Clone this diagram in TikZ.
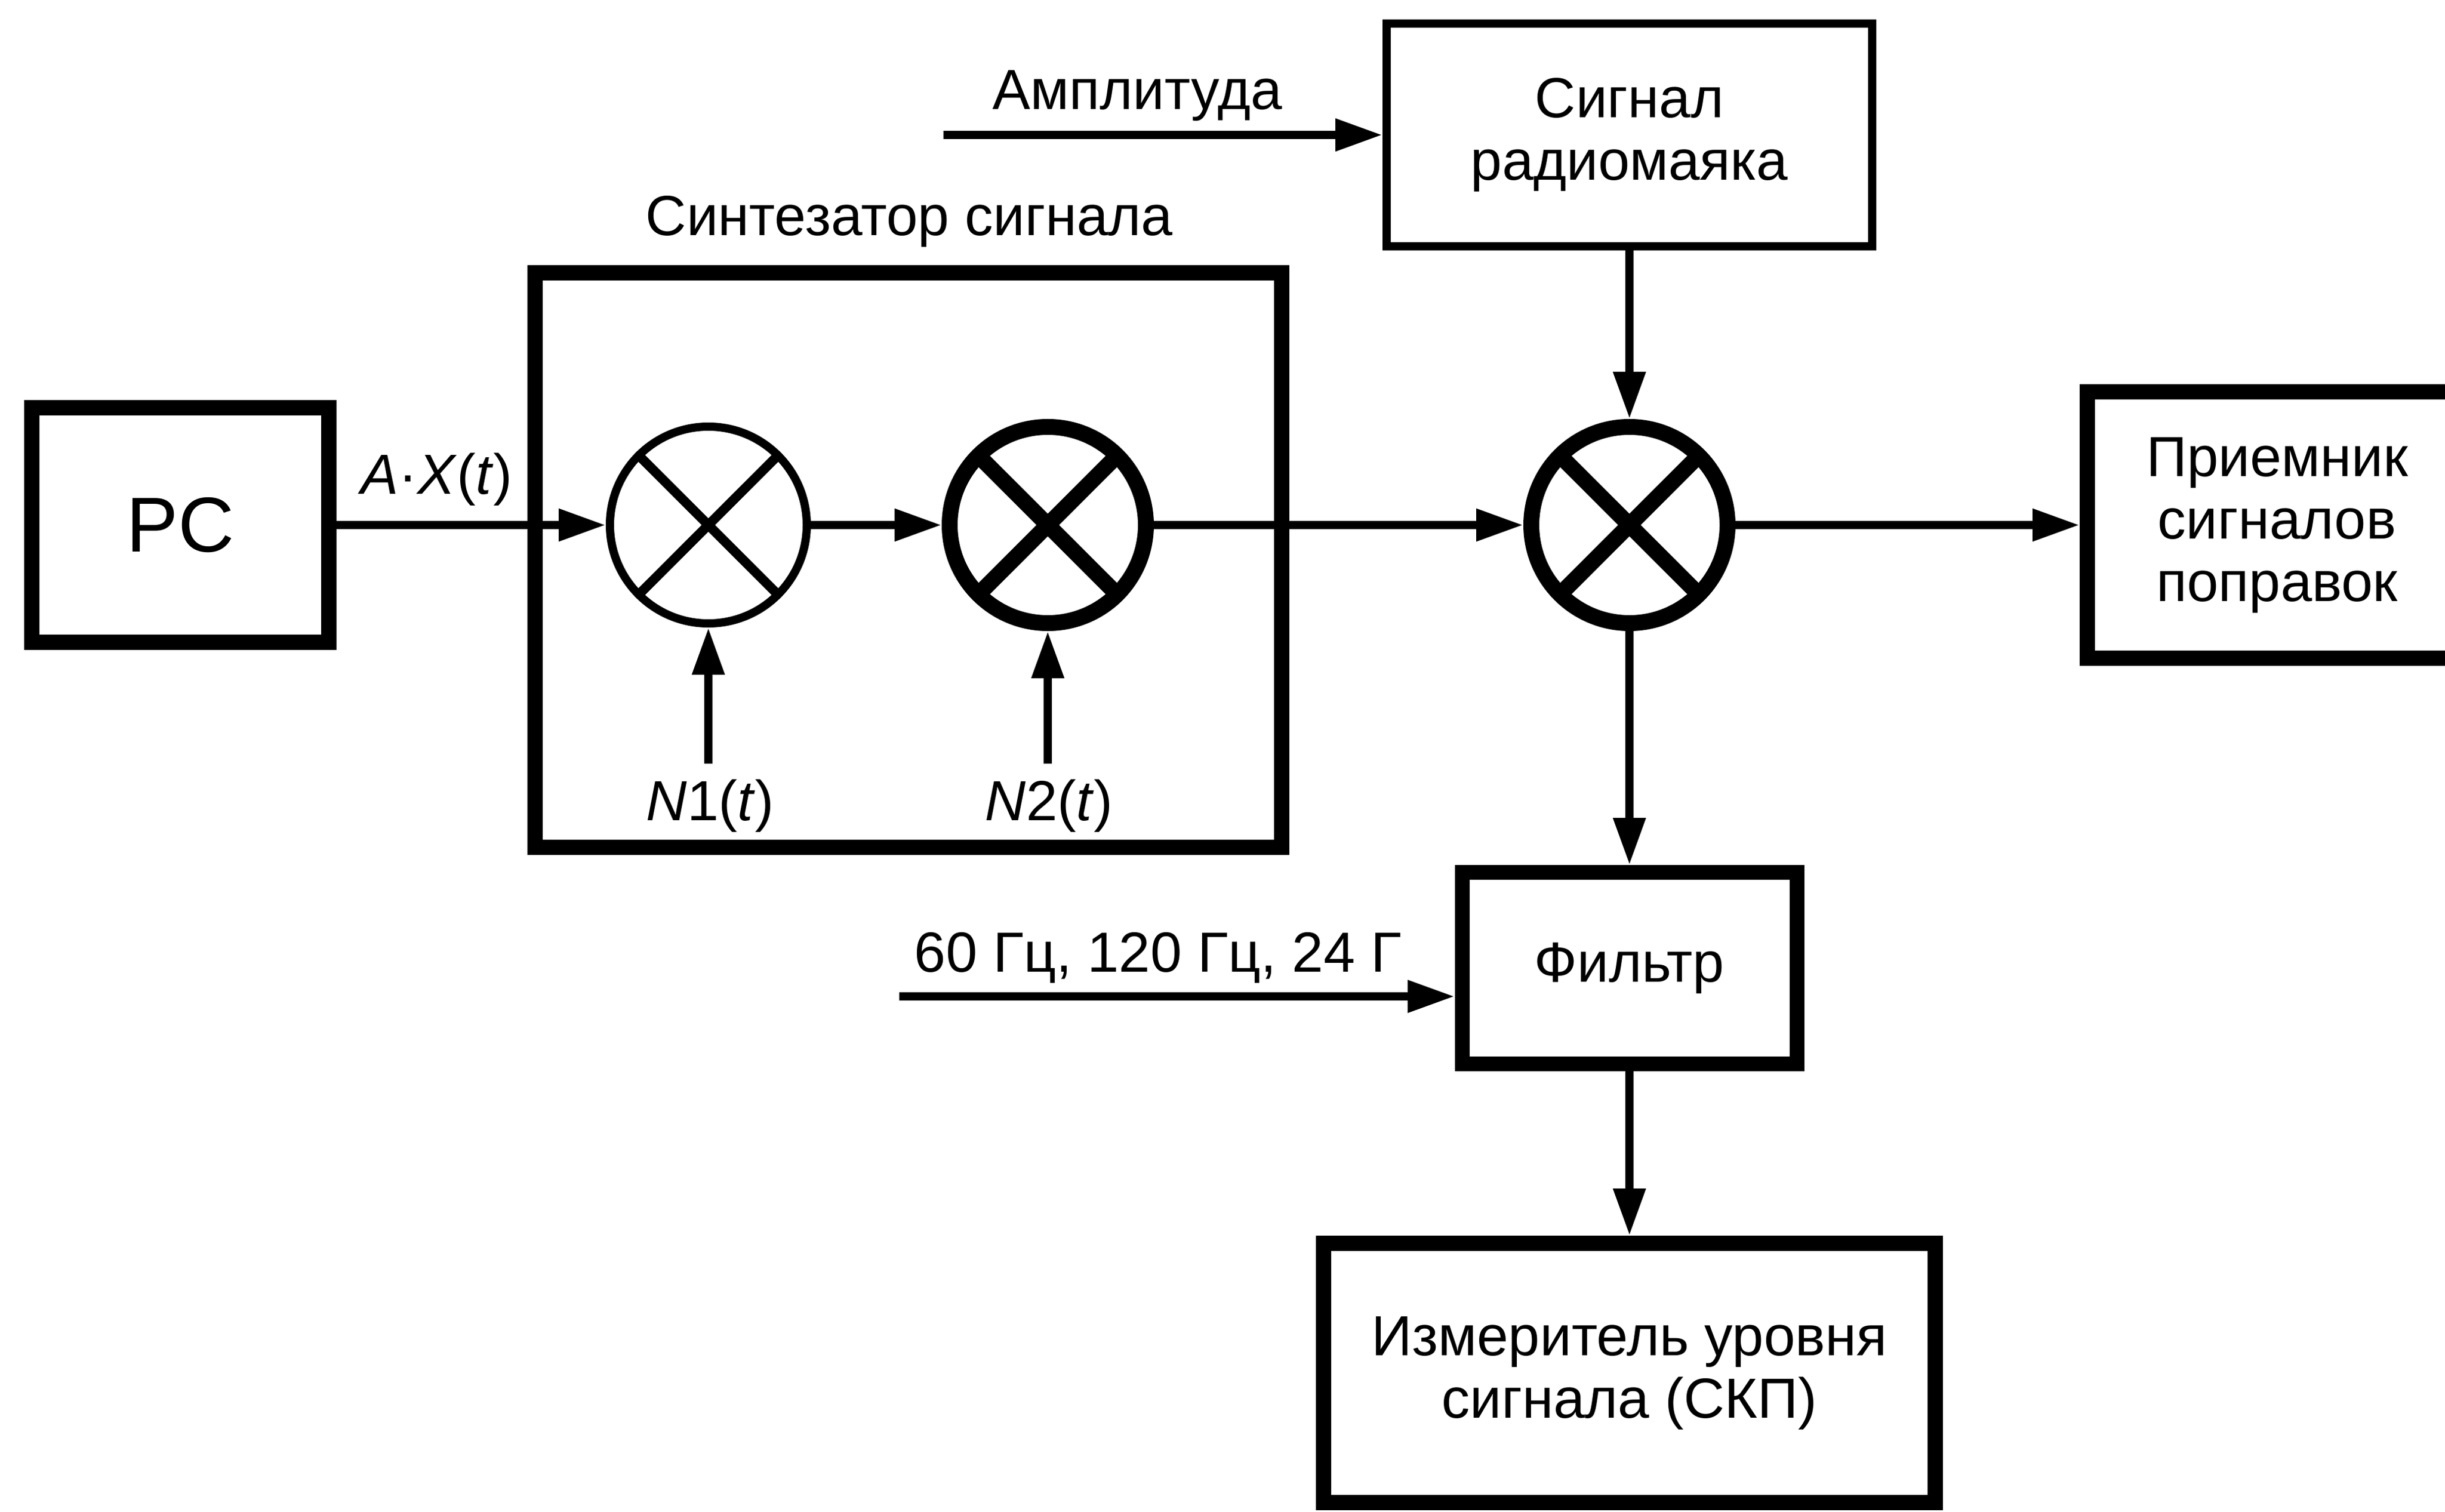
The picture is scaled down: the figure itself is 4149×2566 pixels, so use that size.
\documentclass[tikz,border=0pt]{standalone}
\usepackage{fontspec}
\setmainfont{Liberation Sans}
\usetikzlibrary{arrows.meta}
\begin{document}
\begin{tikzpicture}[x=0.25pt,y=-0.25pt,
  txt/.style={font=\fontsize{24}{26.5}\selectfont, inner sep=0pt},
  blk/.style={draw, rectangle, inner sep=0pt, align=center, font=\fontsize{24}{26.5}\selectfont},
  mul/.style={draw, circle, inner sep=0pt},
  conn/.style={line width=3.6pt, -{Triangle[length=20pt,width=13pt]}},
  ]
\useasboundingbox (0,0) rectangle (4149,2566);
\clip (0,0) rectangle (4149,2566);

% blocks
\node[blk, line width=6.5pt, minimum width=126pt, minimum height=99.5pt, font=\fontsize{33}{36}\selectfont] (pc) at (306,891) {PC};
\node[blk, line width=6.5pt, minimum width=316.75pt, minimum height=243.75pt] (syn) at (1541.5,950.5) {};
\node[blk, line width=3.5pt, minimum width=206pt, minimum height=94.5pt] (radio) at (2765,229) {Сигнал\\радиомаяка};
\node[blk, line width=6.5pt, minimum width=161pt, minimum height=113pt] (rx) at (3864,891) {Приемник\\сигналов\\поправок};
\node[blk, line width=6.25pt, minimum width=142pt, minimum height=81.25pt] (filt) at (2765,1643) {Фильтр};
\node[blk, line width=6.5pt, minimum width=259.5pt, minimum height=110pt] (meter) at (2765,2330) {Измеритель уровня\\сигнала (СКП)};

% multipliers
\node[mul, line width=3.5pt, minimum size=83.5pt] (m1) at (1202,891) {};
\node[mul, line width=6.75pt, minimum size=83.25pt] (m2) at (1778,891) {};
\node[mul, line width=6.75pt, minimum size=83.25pt] (m3) at (2765,891) {};
\draw[line width=4pt] (m1.center) ++(-118,-118) -- ++(236,236);
\draw[line width=4pt] (m1.center) ++(-118,118) -- ++(236,-236);
\foreach \m in {m2,m3}{
  \draw[line width=6.75pt] (\m.center) ++(-118,-118) -- ++(236,236);
  \draw[line width=6.75pt] (\m.center) ++(-118,118) -- ++(236,-236);
}

% labels
\node[txt, anchor=base] (lax) at (741,838) {\textit{A}·\textit{X}(\textit{t})};
\node[txt, anchor=base] (ln1) at (1205,1392) {\textit{N}1(\textit{t})};
\node[txt, anchor=base] (ln2) at (1780,1392) {\textit{N}2(\textit{t})};
\node[txt, anchor=base] (lamp) at (1930,186) {Амплитуда};
\node[txt, anchor=base] (lsyn) at (1543,400) {Синтезатор сигнала};
\node[txt, anchor=base] (lfreq) at (1965,1649) {60 Гц, 120 Гц, 24 Г};

% free ends
\coordinate (n1) at (1202,1296);
\coordinate (n2) at (1778,1296);
\coordinate (a0) at (1601,229);
\coordinate (f0) at (1526,1691);

% connectors
\draw[conn] (pc) -- (m1);
\draw[conn] (m1) -- (m2);
\draw[conn] (m2) -- (m3);
\draw[conn] (m3) -- (rx);
\draw[conn] (radio) -- (m3);
\draw[conn] (m3) -- (filt);
\draw[conn] (filt) -- (meter);
\draw[conn] (n1) -- (m1);
\draw[conn] (n2) -- (m2);
\draw[conn] (a0) -- (radio);
\draw[conn] (f0) -- (filt.west |- f0);
\end{tikzpicture}
\end{document}
